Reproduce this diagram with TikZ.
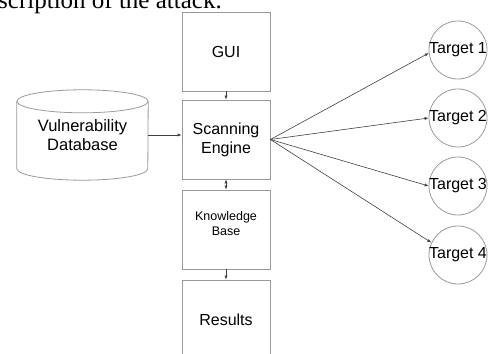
\documentclass[tikz,border=0pt]{standalone}
\usepackage{fontspec}
\setmainfont{Liberation Serif}
\setsansfont{Liberation Sans}
\usetikzlibrary{arrows.meta}
\tikzset{
  >={Latex[length=4pt,width=3.2pt]},
  block/.style={draw=gray!80, line width=0.8pt, minimum width=88pt, minimum height=79pt,
    inner sep=0pt, align=center, font=\sffamily\fontsize{16}{19}\selectfont},
  target/.style={draw=gray!80, line width=0.8pt, circle, minimum size=58pt, inner sep=0pt},
  link/.style={draw=black!75, line width=0.6pt},
}
\begin{document}
\begin{tikzpicture}[x=1pt,y=1pt]
	\useasboundingbox (0,0) rectangle (489,353);
	\clip (0,0) rectangle (489,353);
	% cut-off line of text above
	\node[anchor=base west, inner sep=0pt, font=\fontsize{25}{30}\selectfont] (cap) at (-2,344) {scription of the attack.};
	
	% main column
	\node[block] (gui)  at (226,301.5) {GUI};
	\node[block] (scan) at (226,213.5) {Scanning\\Engine};
	\node[block, label={[yshift=6pt, align=center, font=\sffamily\fontsize{12.5}{15}\selectfont]center:Knowledge\\Base}] (know) at (226,123.5) {};
	\node[block] (res)  at (226,33.5) {Results};
	
	% database
	\node[minimum width=131pt, minimum height=67pt, inner sep=0pt, align=center,
		font=\sffamily\fontsize{16.5}{19.5}\selectfont] (vdb) at (82.5,218) {Vulnerability\\Database};
	\draw[gray!80, line width=0.8pt] (vdb.north west) -- (vdb.south west)
		arc[start angle=180, end angle=360, x radius=65.5pt, y radius=11.5pt] -- (vdb.north east);
	\draw[gray!80, line width=0.8pt] (vdb.north) ellipse[x radius=65.5pt, y radius=11.5pt];
	
	% targets
	\foreach \n/\y in {1/303, 2/235, 3/167, 4/98}{
		\node[target] (t\n) at (458,\y) {};
		\node[inner sep=0pt, font=\sffamily\fontsize{16}{19}\selectfont] (l\n) at (t\n) {Target \n};
	}
	
	% arrows
	\draw[link,->] (vdb.east) -- (vdb.east -| scan.west);
	\draw[link,->] (gui) -- (scan);
	\draw[link,<->] (scan) -- (know);
	\draw[link,->] (know) -- (res);
	\foreach \t/\a in {t1/186, t2/180, t3/180, t4/155}
		\draw[link,->] (scan.east) -- (\t.\a);
\end{tikzpicture}
\end{document}
